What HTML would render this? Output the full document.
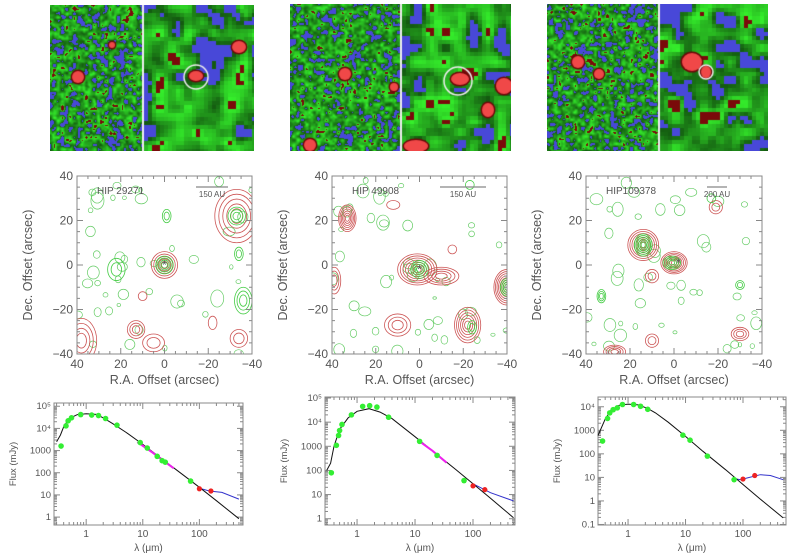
<!DOCTYPE html>
<html><head><meta charset="utf-8">
<style>
body{margin:0;background:#fff;width:800px;height:554px;overflow:hidden;position:relative;font-family:"Liberation Sans",sans-serif}
canvas{position:absolute}
svg{position:absolute;left:0;top:0}
</style></head>
<body>
<canvas id="im1" width="204" height="146" style="left:50px;top:5px"></canvas>
<canvas id="im2" width="221" height="147" style="left:290px;top:4px"></canvas>
<canvas id="im3" width="221" height="147" style="left:547px;top:4px"></canvas>
<svg id="svg" width="800" height="554"></svg>
<script>
// ---------- SED data ----------
const sed1Green=[[0.36,1600],[0.44,1.3e4],[0.48,2.2e4],[0.55,3e4],[0.8,4.2e4],[1.25,4e4],[1.65,3.8e4],[2.2,2.8e4],[3.5,1.4e4],[9,2300],[12,1300],[18,550],[22,350],[25,300],[70,42]];
const sed1Red=[[100,19],[160,15]];
const sed1Model=[[0.3,2500],[0.35,5000],[0.4,1.2e4],[0.5,2.8e4],[0.7,4.2e4],[1,4.6e4],[1.5,4.3e4],[2,3e4],[3,1.6e4],[5,6800],[10,1900],[20,500],[50,85],[100,22],[200,5.5],[500,0.85]];
const sed1Blue=[[100,20],[150,15],[250,13],[500,6.5]];
const sed1Mag=[[8,2450],[15,800],[25,300],[35,160]];
const sed2Green=[[0.36,80],[0.44,1100],[0.48,2800],[0.5,4500],[0.55,8000],[0.8,2e4],[1.25,4.5e4],[1.65,4.8e4],[2.2,4.2e4],[3.5,1.6e4],[12,1600],[24,420],[70,38]];
const sed2Red=[[100,23],[160,16]];
const sed2Model=[[0.3,100],[0.35,200],[0.4,1000],[0.5,5000],[0.7,1.5e4],[1,2.8e4],[1.6,3.6e4],[2.5,2.6e4],[4,1.4e4],[10,2500],[20,650],[50,110],[100,28],[200,7],[500,1.1]];
const sed2Blue=[[100,28],[200,12],[500,5.5]];
const sed2Mag=[[12,1600],[20,650],[35,210]];
const sed3Green=[[0.36,350],[0.44,3200],[0.48,5500],[0.55,7500],[0.65,9000],[0.8,1.25e4],[1.25,1.25e4],[1.65,1.05e4],[2.2,7800],[9,620],[12,380],[24,80],[70,8]];
const sed3Red=[[100,8.5],[160,12]];
const sed3Model=[[0.3,600],[0.4,3000],[0.5,7000],[0.7,1.15e4],[1,1.3e4],[1.5,1.2e4],[2.2,8500],[3,5500],[5,2200],[10,550],[20,130],[50,21],[100,5],[200,1.2],[500,0.19]];
const sed3Blue=[[70,9],[90,8],[120,9.5],[200,13],[300,12],[500,8]];
const sedXTicks=[1,10,100];
const sed12YTicks=[[1e5,"10⁵"],[1e4,"10⁴"],[1000,"1000"],[100,"100"],[10,"10"],[1,"1"]];
const sed3YTicks=[[1e4,"10⁴"],[1000,"1000"],[100,"100"],[10,"10"],[1,"1"],[0.1,"0.1"]];
// ---------- contour sources [ra, dec, rx, ry, levels, color] ----------
const src1=[[0,0,6,6,5,'r'],[0,0,4,4,4,'g'],[13,-29,4,4,3,'r'],[38,-34,7,10,4,'r'],[-33,22,10,12,5,'r'],[-33,22,4,4,3,'g'],[-36,-16,4,6,3,'g'],[22,-2,4,5,2,'g'],[-34,-33,4,4,2,'r'],[-1,22,2,3,2,'g'],[10,-14,2,2,1,'r'],[-34,5,2,3,2,'g'],[5,-35,5,4,2,'r'],[-22,-26,2,3,1,'r']];
const src2=[[1,-2,9,7,7,'r'],[0,-2,4,4,4,'g'],[33,21,4,6,6,'r'],[-40,-10,6,8,8,'r'],[-40,-10,3,4,4,'g'],[-22,-27,6,8,6,'r'],[-24,-28,2,3,2,'g'],[10,-27,6,5,3,'r'],[-10,-5,8,4,4,'r'],[12,27,3,2,1,'r'],[-15,7,2,2,1,'r'],[39,-7,3,6,3,'r'],[-23,36,2,2,1,'g']];
const src3=[[14,9,7,7,7,'r'],[14,9,4,5,6,'g'],[0,1,6,5,7,'r'],[1,1,4,3,4,'g'],[10,-5,3,3,2,'r'],[-19,26,3,3,2,'r'],[-30,-31,4,3,3,'r'],[10,-34,3,3,2,'r'],[27,-39,5,3,4,'r'],[33,-14,2,3,3,'g'],[-30,-9,2,2,2,'g'],[-17,30,2,2,1,'g']];

const svg=document.getElementById('svg');
const NS='http://www.w3.org/2000/svg';
function el(tag,attrs,parent){const e=document.createElementNS(NS,tag);for(const k in attrs)e.setAttribute(k,attrs[k]);(parent||svg).appendChild(e);return e;}
function txt(x,y,s,size,anchor,parent,rot){const t=el('text',{x:x,y:y,'font-size':size,'text-anchor':anchor||'middle',fill:'#555','font-family':'"Liberation Sans",sans-serif'},parent);if(rot)t.setAttribute('transform','rotate(-90 '+x+' '+y+')');t.textContent=s;return t;}

let seed=7;function rnd(){seed=(seed*16807)%2147483647;return seed/2147483647;}

// ---------- contour panels ----------
function contour(id,x0,y0,w,h,srcs,label,scaleX1,scaleX2,scaleTxt){
  const g=el('g',{});
  
  
  const X=ra=>x0+(40-ra)/80*w, Y=d=>y0+(40-d)/80*h;
  const clip=el('clipPath',{id:'c'+id},g);el('rect',{x:x0,y:y0,width:w,height:h},clip);
  const cg=el('g',{'clip-path':'url(#c'+id+')'},g);
  for(let i=0;i<45;i++){const ra=rnd()*80-40,d=rnd()*80-40,r=0.8+rnd()*2.2;
    const b=el('ellipse',{cx:X(ra),cy:Y(d),rx:r*w/80,ry:r*(0.7+rnd()*0.6)*h/80,fill:'none',stroke:'#6c6',"stroke-width":0.7},cg);
    }
  srcs.forEach(s=>{
    for(let k=0;k<s[4];k++){const f=1-k/(s[4]+0.5);
      const e=el('ellipse',{cx:X(s[0]),cy:Y(s[1]),rx:s[2]*f*w/80*1.0,ry:s[3]*f*h/80,fill:'none',stroke:s[5]=='r'?'#c55':'#4c4','stroke-width':0.8},cg);
      
      }
  });
  el('rect',{x:x0,y:y0,width:w,height:h,fill:'none',stroke:'#888','stroke-width':1},g);
  for(let v=-40;v<=40;v+=5){const L=v%20==0?6:3;
    el('line',{x1:X(v),x2:X(v),y1:y0,y2:y0+L,stroke:'#888'},g);el('line',{x1:X(v),x2:X(v),y1:y0+h,y2:y0+h-L,stroke:'#888'},g);
    el('line',{x1:x0,x2:x0+L,y1:Y(v),y2:Y(v),stroke:'#888'},g);el('line',{x1:x0+w,x2:x0+w-L,y1:Y(v),y2:Y(v),stroke:'#888'},g);}
  [40,20,0,-20,-40].forEach(v=>{txt(X(v),y0+h+14,String(v).replace('-','−'),12,'middle',g);txt(x0-4,Y(v)+4,String(v).replace('-','−'),12,'end',g);});
  txt(x0+w/2,y0+h+30,'R.A. Offset (arcsec)',12.5,'middle',g);
  const yt=txt(x0-45,y0+h/2,'Dec. Offset (arcsec)',12.5,'middle',g,true);
  txt(x0+20,y0+18,label,10,'start',g);
  el('line',{x1:scaleX1,x2:scaleX2,y1:y0+11,y2:y0+11,stroke:'#888','stroke-width':1.2},g);
  txt((scaleX1+scaleX2)/2,y0+21,scaleTxt,8,'middle',g);
  const sx=id==3?X(-2):X(0), sy=id==3?Y(1):Y(id==2?-2:0);
  txt(sx,sy+4,'*',12,'middle',g);
}
contour(1,77,176,175,178,src1,'HIP 29271',196,228,'150 AU');
contour(2,332,176,175,178,src2,'HIP 49908',440,486,'150 AU');
contour(3,586,176,176,178,src3,'HIP109378',707,727,'200 AU');

// ---------- SED panels ----------
function sed(id,x0,y0,w,h,xmin,xmax,ymin,ymax,model,mag,blue,green,red,yticks){
  const g=el('g',{});
  
  
  const lx0=Math.log10(xmin),lx1=Math.log10(xmax),ly0=Math.log10(ymin),ly1=Math.log10(ymax);
  const X=v=>x0+(Math.log10(v)-lx0)/(lx1-lx0)*w, Y=v=>y0+h-(Math.log10(v)-ly0)/(ly1-ly0)*h;
  const path=a=>a.map((p,i)=>(i?'L':'M')+X(p[0]).toFixed(1)+' '+Y(p[1]).toFixed(1)).join(' ');
  el('rect',{x:x0,y:y0,width:w,height:h,fill:'none',stroke:'#888'},g);
  for(let d=Math.floor(lx0);d<=Math.ceil(lx1);d++)for(let m=1;m<10;m++){const v=m*Math.pow(10,d);if(v<xmin||v>xmax)continue;const L=m==1?6:3;
    el('line',{x1:X(v),x2:X(v),y1:y0+h,y2:y0+h-L,stroke:'#888'},g);el('line',{x1:X(v),x2:X(v),y1:y0,y2:y0+L,stroke:'#888'},g);}
  for(let d=Math.floor(ly0);d<=Math.ceil(ly1);d++)for(let m=1;m<10;m++){const v=m*Math.pow(10,d);if(v<ymin||v>ymax)continue;const L=m==1?6:3;
    el('line',{x1:x0,x2:x0+L,y1:Y(v),y2:Y(v),stroke:'#888'},g);el('line',{x1:x0+w,x2:x0+w-L,y1:Y(v),y2:Y(v),stroke:'#888'},g);}
  sedXTicks.forEach(v=>txt(X(v),y0+h+12,String(v),10,'middle',g));
  yticks.forEach(t=>txt(x0-3,Y(t[0])+3,t[1],9.5,'end',g));
  txt(x0+w/2,y0+h+26,'λ (μm)',10,'middle',g);
  txt(x0-38,y0+h/2,'Flux (mJy)',9.5,'middle',g,true);
  const bl=el('path',{d:path(blue),fill:'none',stroke:'#33c','stroke-width':1},g);
  const ml=el('path',{d:path(model),fill:'none',stroke:'#111','stroke-width':1},g);
  if(mag){const mg=el('path',{d:path(mag),fill:'none',stroke:'#e2e','stroke-width':2},g);}
  green.forEach(p=>{const c=el('circle',{cx:X(p[0]),cy:Y(p[1]),r:2.8,fill:'#3e3'},g);});
  red.forEach(p=>{const c=el('circle',{cx:X(p[0]),cy:Y(p[1]),r:2.6,fill:'#e22'},g);});
}
sed(1,54,403,189,122,0.27,590,0.44,1.4e5,sed1Model,sed1Mag,sed1Blue,sed1Green,sed1Red,sed12YTicks);
sed(2,325,397,190,128,0.28,530,0.55,1.1e5,sed2Model,sed2Mag,sed2Blue,sed2Green,sed2Red,sed12YTicks);
sed(3,598,397,188,128,0.3,560,0.095,2.6e4,sed3Model,null,sed3Blue,sed3Green,sed3Red,sed3YTicks);

// ---------- texture images ----------
function drawImg(id,div,blobsL,blobsR,circ){
  const c=document.getElementById(id),ctx=c.getContext('2d'),W=c.width,H=c.height;
  function field(cell,w,h){const gw=Math.ceil(w/cell)+2,gh=Math.ceil(h/cell)+2,a=[];for(let i=0;i<gw*gh;i++)a.push(rnd());return (x,y)=>{const fx=x/cell,fy=y/cell,ix=Math.floor(fx),iy=Math.floor(fy),tx=fx-ix,ty=fy-iy;
    const g=(i,j)=>a[j*gw+i];const s=t=>t*t*(3-2*t);const a1=g(ix,iy)+(g(ix+1,iy)-g(ix,iy))*s(tx),a2=g(ix,iy+1)+(g(ix+1,iy+1)-g(ix,iy+1))*s(tx);return a1+(a2-a1)*s(ty);};}
  function half(x0,w,cell,px,blobs){const f=field(cell,w,H),f2=field(cell*0.6,w,H);
    for(let y=0;y<H;y+=px)for(let x=0;x<w;x+=px){const v=f(x,y)*0.7+f2(x,y)*0.3;let col;
      if(v<0.33)col='#4848d8';else if(v>0.8)col='#7a0a0a';else{const gg=Math.round(90+(v-0.33)/0.47*150);col='rgb('+Math.round(gg*0.22)+','+gg+','+Math.round(gg*0.18)+')';}
      ctx.fillStyle=col;ctx.fillRect(x0+x,y,px,px);}
    blobs.forEach(b=>{ctx.fillStyle='#6a0808';ctx.beginPath();ctx.ellipse(x0+b[0],b[1],b[2]+1.5,b[3]+1.5,0,0,7);ctx.fill();ctx.fillStyle='#f04848';ctx.beginPath();ctx.ellipse(x0+b[0],b[1],b[2],b[3],0,0,7);ctx.fill();});}
  half(0,div,4,1,blobsL);half(div+2,W-div-2,14,4,blobsR);
  ctx.fillStyle='#eee';ctx.fillRect(div,0,2,H);
  ctx.strokeStyle='#eee';ctx.lineWidth=1.5;ctx.beginPath();ctx.arc(div+2+circ[0],circ[1],circ[2],0,7);ctx.stroke();
}
drawImg('im1',92,[[28,72,6,6],[62,40,3,3]],[[52,71,7,5],[95,42,7,6]],[52,72,12]);
drawImg('im2',110,[[55,70,6,6],[20,141,6,6],[104,83,4,4]],[[58,75,9,6],[102,82,8,8],[14,142,12,6],[86,106,6,7]],[56,77,14]);
drawImg('im3',111,[[31,58,6,6],[52,70,5,5]],[[32,58,10,9],[46,68,5,6]],[46,68,7]);
</script>
</body></html>
